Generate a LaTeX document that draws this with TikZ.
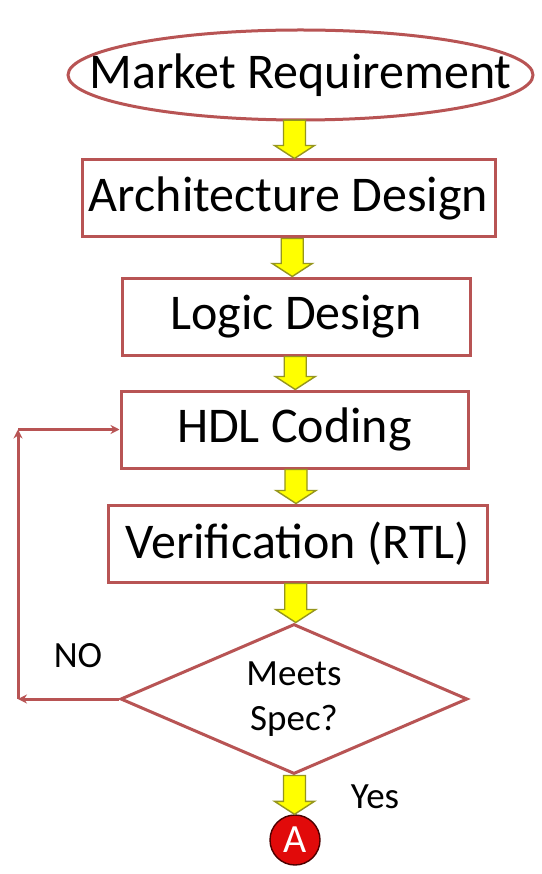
\documentclass[tikz,border=0pt]{standalone}
\usepackage{fontspec}
\setmainfont{Carlito}
\usetikzlibrary{shapes.geometric,calc,arrows.meta}
\definecolor{frame}{RGB}{184,84,84}
\definecolor{arrowfill}{RGB}{255,255,0}
\definecolor{arrowline}{RGB}{150,150,30}
\definecolor{badge}{RGB}{225,10,10}
\tikzset{
  outline/.style={draw=frame, line width=3pt},
  stepbox/.style={outline, fill=white, rectangle,
    minimum height=77pt, inner sep=0pt, font=\fontsize{50}{56}\selectfont},
  startnode/.style={rectangle, minimum width=465pt, minimum height=90pt,
    inner sep=0pt, font=\fontsize{50}{56}\selectfont},
  decision/.style={outline, fill=white, diamond,
    minimum width=347pt, minimum height=150pt, inner sep=0pt, aspect=2.3,
    align=center, font=\fontsize{37}{45}\selectfont},
  blockarrow/.style={fill=arrowfill, draw=arrowline, line width=1.4pt, line join=miter},
  loopline/.style={outline, -{Stealth[length=9pt,width=9pt]}},
  label/.style={font=\fontsize{37}{44}\selectfont},
  connector/.style={circle, fill=badge, draw=black!70!red, line width=1.4pt,
    minimum size=50pt, inner sep=0pt, text=white, font=\fontsize{40}{42}\selectfont}
}
% yellow block arrow from the bottom of #1 to the top of #2
\newcommand\flowarrow[2]{%
  \filldraw[blockarrow] let \p1=($(#1.south)!.5!(#2.north)$), \p2=(#1.south), \p3=(#2.north) in
    (\x1-11pt,\y2) -- (\x1+11pt,\y2) -- (\x1+11pt,\y3+13pt) -- (\x1+20pt,\y3+13pt)
    -- (\x1,\y3) -- (\x1-20pt,\y3+13pt) -- (\x1-11pt,\y3+13pt) -- cycle;}
\begin{document}
\begin{tikzpicture}[x=1pt,y=-1pt]
  \useasboundingbox (0,0) rectangle (541,874);
  \fill[white] (0,0) rectangle (541,874);

  % start: text node with an elliptic outline of fixed size
  \draw[outline, fill=white] (300.5,75) ellipse [x radius=232.5, y radius=45];
  \node[startnode] (mr) at (300.5,75) {Market Requirement};
  \node[stepbox, minimum width=413pt] (ad) at (288.5,198.5) {Architecture Design};
  \node[stepbox, minimum width=348pt] (ld) at (296,316.5) {Logic Design};
  \node[stepbox, minimum width=347pt] (hdl) at (294.5,429.5) {HDL Coding};
  \node[stepbox, minimum width=379pt] (ver) at (297.5,543.5) {Verification (RTL)};
  \node[decision] (spec) at (294,699) {Meets\\Spec?};
  \node[connector] (a) at (295,840) {A};

  \flowarrow{mr}{ad}
  \flowarrow{ad}{ld}
  \flowarrow{ld}{hdl}
  \flowarrow{hdl}{ver}
  \flowarrow{ver}{spec}
  \flowarrow{spec}{a}

  % feedback loop back to coding
  \coordinate (lb) at (18,699);
  \coordinate (lt) at (lb |- hdl.west);
  \draw[loopline] (spec.west) -- (lb);
  \draw[loopline] (lb) -- (lt);
  \draw[loopline] (lt) -- (hdl.west);

  \node[label] (no) at (78,656) {NO};
  \node[label] (yes) at (375,797) {Yes};
\end{tikzpicture}
\end{document}
